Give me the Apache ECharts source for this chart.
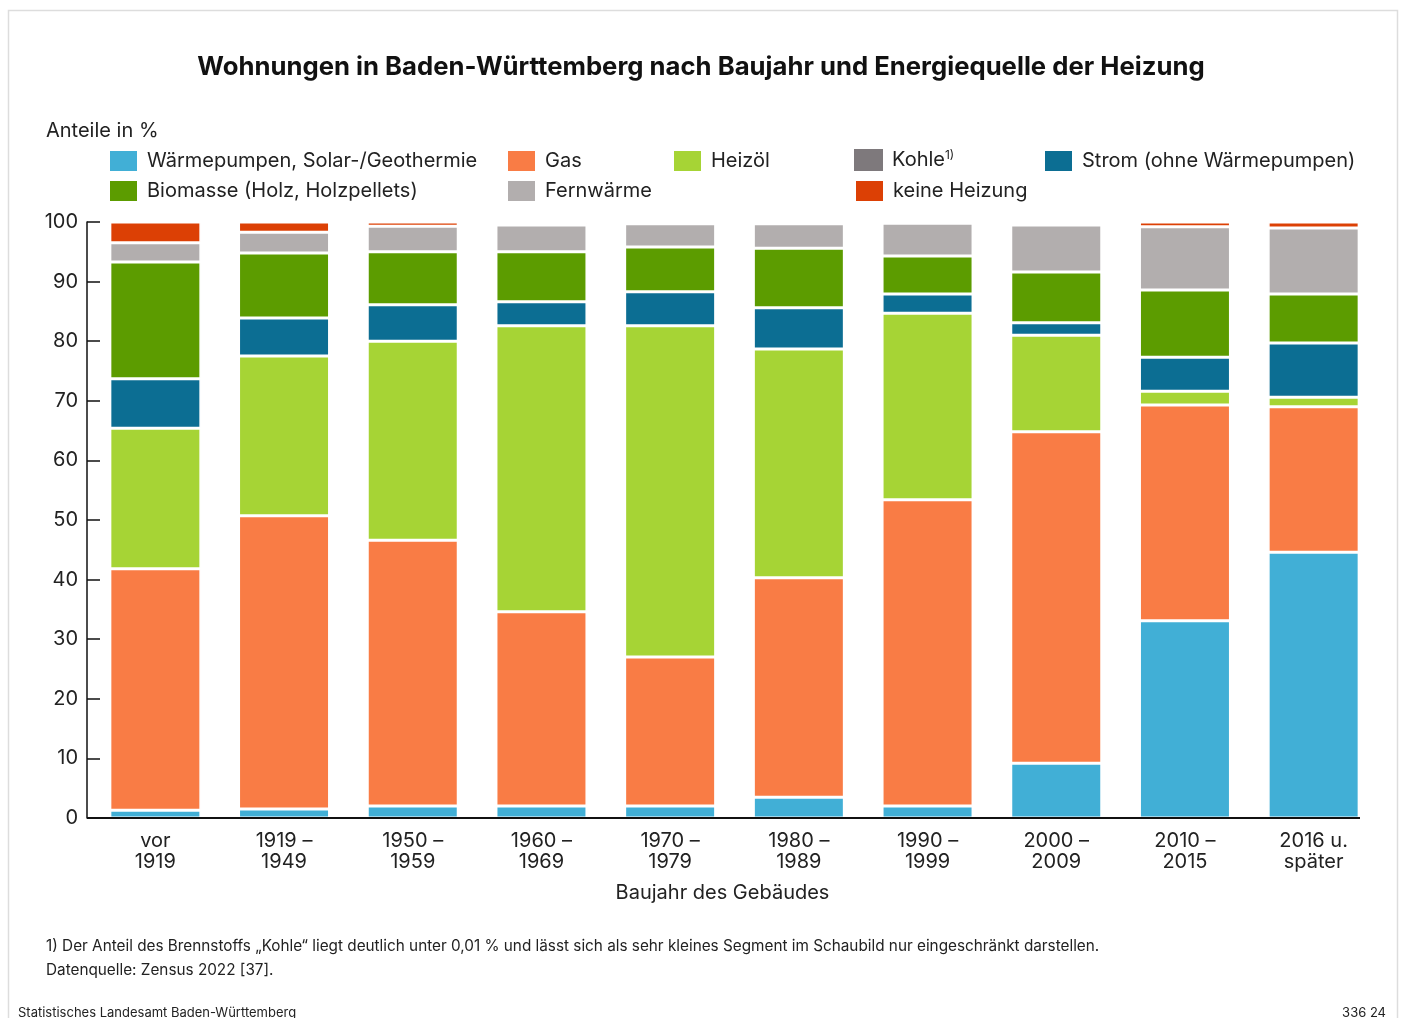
<!DOCTYPE html>
<html>
<head>
<meta charset="utf-8">
<script src="https://cdn.jsdelivr.net/npm/echarts@6/dist/echarts.min.js"></script>
<style>
html,body{margin:0;padding:0;background:#fff;}
#chart{width:1402px;height:1018px;}
</style>
</head>
<body>
<div id="chart"></div>
<script>
const categories = ['vor\n1919','1919 –\n1949','1950 –\n1959','1960 –\n1969','1970 –\n1979','1980 –\n1989','1990 –\n1999','2000 –\n2009','2010 –\n2015','2016 u.\nspäter'];
const waermepumpen = [1.3, 1.5, 2.0, 2.0, 2.0, 3.5, 2.0, 9.2, 33.1, 44.6];
const gas          = [40.5, 49.2, 44.6, 32.6, 25.0, 36.8, 51.4, 55.6, 36.2, 24.4];
const heizoel      = [23.6, 26.8, 33.4, 48.0, 55.6, 38.4, 31.3, 16.2, 2.3, 1.6];
const kohle        = [0, 0, 0, 0, 0, 0, 0, 0, 0, 0];
const strom        = [8.3, 6.4, 6.1, 4.0, 5.7, 6.9, 3.2, 2.1, 5.7, 9.1];
const biomasse     = [19.6, 10.9, 8.9, 8.4, 7.5, 10.0, 6.4, 8.5, 11.3, 8.2];
const fernwaerme   = [3.2, 3.5, 4.3, 4.5, 3.9, 4.1, 5.5, 7.9, 10.6, 11.1];
const keineHeizung = [3.5, 1.7, 0.7, 0.5, 0.3, 0.3, 0.2, 0.5, 0.8, 1.0];
const yTicks = [0,10,20,30,40,50,60,70,80,90,100];

const FONT = 'Inter, "Noto Sans", sans-serif';
const names = {
  w: 'Wärmepumpen, Solar-/Geothermie', g: 'Gas', h: 'Heizöl', k: 'Kohle',
  s: 'Strom (ohne Wärmepumpen)', b: 'Biomasse (Holz, Holzpellets)', f: 'Fernwärme', n: 'keine Heizung'
};
const colors = {w:'#41afd6', g:'#f97c45', h:'#a6d435', k:'#7e797c', s:'#0c6e93', b:'#5c9c00', f:'#b2aeae', n:'#dc4005'};

function mkSeries(key, data, bw) {
  return {
    name: names[key], type: 'bar', stack: 'all', data: data,
    barWidth: 91,
    itemStyle: {color: colors[key], borderColor: '#fff', borderWidth: bw},
    emphasis: {disabled: true}
  };
}

function legendAt(key, left, top) {
  return {
    data: [names[key]], left: left, top: top, padding: 0,
    itemWidth: 29, itemHeight: 22, itemGap: 0,
    icon: 'rect',
    textStyle: {
      fontFamily: FONT, fontSize: 20, color: '#222', padding: [0,0,0,4],
      rich: {sup: {fontFamily: FONT, fontSize: 12, color: '#222', verticalAlign: 'top', padding:[0,0,10,0]}}
    },
    formatter: key === 'k' ? function(n){ return n + '{sup|1)}'; } : undefined,
    selectedMode: false
  };
}

const chart = echarts.init(document.getElementById('chart'), null, {renderer: 'canvas'});
chart.setOption({
  backgroundColor: '#fff',
  animation: false,
  title: {
    text: 'Wohnungen in Baden-Württemberg nach Baujahr und Energiequelle der Heizung',
    left: 'center', top: 49,
    textStyle: {fontFamily: FONT, fontSize: 25.7, fontWeight: 'bold', color: '#111'}
  },
  legend: [
    legendAt('w', 108, 149),
    legendAt('g', 506, 149),
    legendAt('h', 672, 149),
    legendAt('k', 854, 149),
    legendAt('s', 1043, 149),
    legendAt('b', 108, 179),
    legendAt('f', 506, 179),
    legendAt('n', 854, 179)
  ],
  grid: {left: 91, top: 222, width: 1287, height: 596, containLabel: false},
  xAxis: {
    type: 'category', data: categories,
    axisLine: {show: false}, axisTick: {show: false},
    axisLabel: {fontFamily: FONT, fontSize: 20, color: '#222', lineHeight: 21, margin: 12, interval: 0},
    name: 'Baujahr des Gebäudes', nameLocation: 'middle', nameGap: 65,
    nameTextStyle: {fontFamily: FONT, fontSize: 20, color: '#222', padding: [0, 24, 0, 0]}
  },
  yAxis: {
    type: 'value', min: 0, max: 100, interval: 10, offset: 4,
    axisLine: {show: true, lineStyle: {color: '#111', width: 1.5}},
    axisTick: {show: true, inside: true, length: 13, lineStyle: {color: '#111', width: 1.5}},
    splitLine: {show: false},
    axisLabel: {fontFamily: FONT, fontSize: 20, color: '#222', margin: 9,
      formatter: function(v){ return yTicks.indexOf(v) >= 0 ? String(v) : ''; }}
  },
  series: [
    mkSeries('w', waermepumpen, 1.5),
    mkSeries('g', gas, 1.5),
    mkSeries('h', heizoel, 1.5),
    mkSeries('k', kohle, 0),
    mkSeries('s', strom, 1.5),
    mkSeries('b', biomasse, 1.5),
    mkSeries('f', fernwaerme, 1.5),
    mkSeries('n', keineHeizung, 1.5)
  ],
  graphic: [
    {type: 'rect', shape: {x: 8.5, y: 10.5, width: 1389, height: 1030}, style: {fill: 'none', stroke: '#dddddd', lineWidth: 1.5}, silent: true, z: -1},
    {type: 'line', shape: {x1: 87, y1: 818, x2: 1360, y2: 818}, style: {stroke: '#111', lineWidth: 2}, z: 100},
    {type: 'text', left: 46, top: 121, style: {text: 'Anteile in %', fontFamily: FONT, fontSize: 20, fill: '#222'}},
    {type: 'text', left: 46, top: 939, style: {text: '1) Der Anteil des Brennstoffs „Kohle“ liegt deutlich unter 0,01 % und lässt sich als sehr kleines Segment im Schaubild nur eingeschränkt darstellen.', fontFamily: FONT, fontSize: 15.3, fill: '#222'}},
    {type: 'text', left: 46, top: 963, style: {text: 'Datenquelle: Zensus 2022 [37].', fontFamily: FONT, fontSize: 15.3, fill: '#222'}},
    {type: 'text', left: 18, top: 1007, style: {text: 'Statistisches Landesamt Baden-Württemberg', fontFamily: FONT, fontSize: 13, fill: '#222'}},
    {type: 'text', right: 16, top: 1007, style: {text: '336 24', fontFamily: FONT, fontSize: 13, fill: '#222'}}
  ]
});
</script>
</body>
</html>
